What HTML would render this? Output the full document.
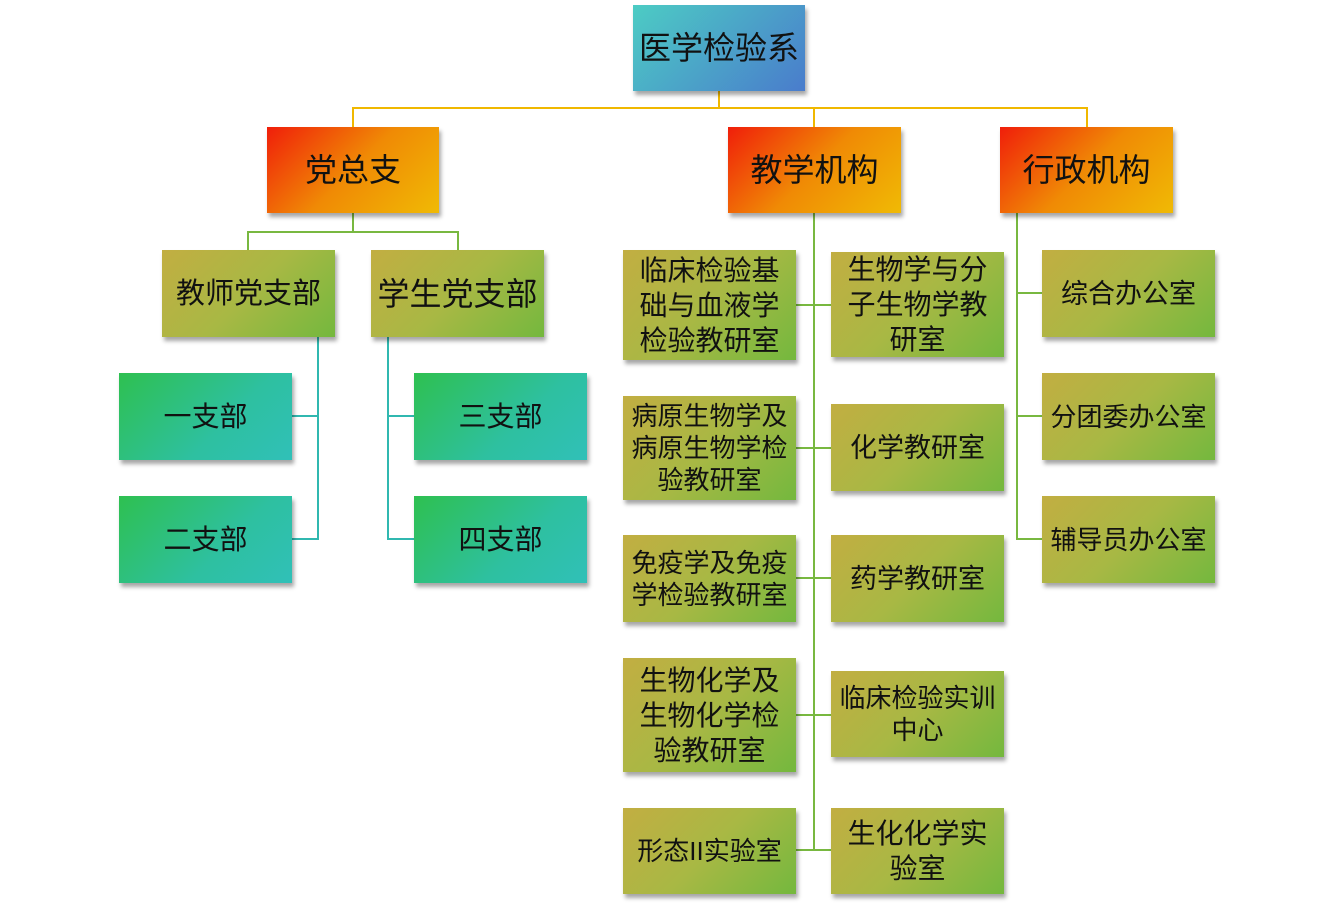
<!DOCTYPE html>
<html><head><meta charset="utf-8"><style>
body{margin:0;width:1334px;height:905px;background:#fff;position:relative;overflow:hidden;font-family:"Liberation Sans","Noto Sans CJK SC",sans-serif;}
.b{position:absolute;display:flex;align-items:center;justify-content:center;text-align:center;color:#111;box-shadow:2px 4px 4px rgba(0,0,0,.35);font-size:27px;line-height:34px;white-space:nowrap;}
.t{background:linear-gradient(135deg,#4cccc4,#4a7ccc);font-size:32px;}
.o{background:linear-gradient(135deg,#f01e0a,#f08a05 50%,#f0ba05);font-size:32px;}
.g{background:linear-gradient(135deg,#c2ae42,#a8b844 50%,#74b83e);}
.c{background:linear-gradient(135deg,#2ec050,#2ec0a0 60%,#30c0b8);}
.l{position:absolute;}
</style></head><body>
<div class="l" style="left:718px;top:91px;width:2px;height:18px;background:#f0b800"></div>
<div class="l" style="left:352px;top:107px;width:736px;height:2px;background:#f0b800"></div>
<div class="l" style="left:352px;top:107px;width:2px;height:20px;background:#f0b800"></div>
<div class="l" style="left:813px;top:107px;width:2px;height:20px;background:#f0b800"></div>
<div class="l" style="left:1086px;top:107px;width:2px;height:20px;background:#f0b800"></div>

<div class="l" style="left:352px;top:213px;width:2px;height:19px;background:#78b840"></div>
<div class="l" style="left:247px;top:231px;width:212px;height:2px;background:#78b840"></div>
<div class="l" style="left:247px;top:231px;width:2px;height:19px;background:#78b840"></div>
<div class="l" style="left:457px;top:231px;width:2px;height:19px;background:#78b840"></div>

<div class="l" style="left:317px;top:337px;width:2px;height:203px;background:#30b8b0"></div>
<div class="l" style="left:292px;top:415px;width:27px;height:2px;background:#30b8b0"></div>
<div class="l" style="left:292px;top:538px;width:27px;height:2px;background:#30b8b0"></div>
<div class="l" style="left:387px;top:337px;width:2px;height:203px;background:#30b8b0"></div>
<div class="l" style="left:387px;top:415px;width:28px;height:2px;background:#30b8b0"></div>
<div class="l" style="left:387px;top:538px;width:28px;height:2px;background:#30b8b0"></div>

<div class="l" style="left:813px;top:213px;width:2px;height:638px;background:#78b840"></div>
<div class="l" style="left:796px;top:304px;width:36px;height:2px;background:#78b840"></div>
<div class="l" style="left:796px;top:447px;width:36px;height:2px;background:#78b840"></div>
<div class="l" style="left:796px;top:577px;width:36px;height:2px;background:#78b840"></div>
<div class="l" style="left:796px;top:714px;width:36px;height:2px;background:#78b840"></div>
<div class="l" style="left:796px;top:849px;width:36px;height:2px;background:#78b840"></div>

<div class="l" style="left:1016px;top:213px;width:2px;height:327px;background:#78b840"></div>
<div class="l" style="left:1016px;top:292px;width:26px;height:2px;background:#78b840"></div>
<div class="l" style="left:1016px;top:415px;width:26px;height:2px;background:#78b840"></div>
<div class="l" style="left:1016px;top:538px;width:26px;height:2px;background:#78b840"></div>

<div class="b t" style="left:633px;top:5px;width:172px;height:86px">医学检验系</div>
<div class="b o" style="left:267px;top:127px;width:172px;height:86px">党总支</div>
<div class="b o" style="left:728px;top:127px;width:173px;height:86px">教学机构</div>
<div class="b o" style="left:1000px;top:127px;width:173px;height:86px">行政机构</div>

<div class="b g" style="left:162px;top:250px;width:173px;height:87px;font-size:29px">教师党支部</div>
<div class="b g" style="left:371px;top:250px;width:173px;height:87px;font-size:32px">学生党支部</div>
<div class="b c" style="left:119px;top:373px;width:173px;height:87px;font-size:28px">一支部</div>
<div class="b c" style="left:119px;top:496px;width:173px;height:87px;font-size:28px">二支部</div>
<div class="b c" style="left:414px;top:373px;width:173px;height:87px;font-size:28px">三支部</div>
<div class="b c" style="left:414px;top:496px;width:173px;height:87px;font-size:28px">四支部</div>

<div class="b g" style="left:623px;top:250px;width:173px;height:110px;font-size:28px;line-height:35px">临床检验基<br>础与血液学<br>检验教研室</div>
<div class="b g" style="left:831px;top:252px;width:173px;height:105px;font-size:28px;line-height:35px">生物学与分<br>子生物学教<br>研室</div>
<div class="b g" style="left:623px;top:396px;width:173px;height:104px;font-size:26px;line-height:32px">病原生物学及<br>病原生物学检<br>验教研室</div>
<div class="b g" style="left:831px;top:404px;width:173px;height:87px">化学教研室</div>
<div class="b g" style="left:623px;top:535px;width:173px;height:87px;font-size:26px;line-height:32px">免疫学及免疫<br>学检验教研室</div>
<div class="b g" style="left:831px;top:535px;width:173px;height:87px">药学教研室</div>
<div class="b g" style="left:623px;top:658px;width:173px;height:114px;font-size:28px;line-height:35px">生物化学及<br>生物化学检<br>验教研室</div>
<div class="b g" style="left:831px;top:671px;width:173px;height:86px;font-size:26px;line-height:32px">临床检验实训<br>中心</div>
<div class="b g" style="left:623px;top:808px;width:173px;height:86px;font-size:26px">形态II实验室</div>
<div class="b g" style="left:831px;top:808px;width:173px;height:86px;font-size:28px;line-height:35px">生化化学实<br>验室</div>

<div class="b g" style="left:1042px;top:250px;width:173px;height:87px">综合办公室</div>
<div class="b g" style="left:1042px;top:373px;width:173px;height:87px;font-size:26px">分团委办公室</div>
<div class="b g" style="left:1042px;top:496px;width:173px;height:87px;font-size:26px">辅导员办公室</div>
</body></html>
